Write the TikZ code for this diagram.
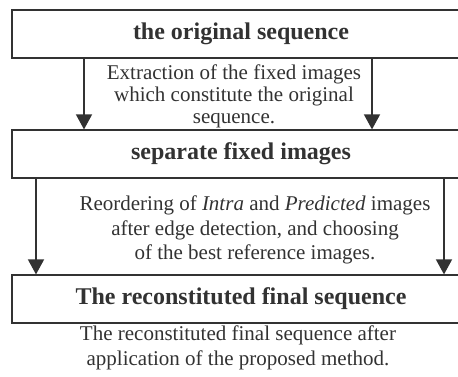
\documentclass[tikz,border=0pt]{standalone}
\usepackage{fontspec}
\setmainfont{Liberation Serif}
\usetikzlibrary{arrows.meta, positioning, calc}
\definecolor{ink}{RGB}{50,50,50}

\begin{document}
\begin{tikzpicture}[x=1pt,y=-1pt,>={Triangle[width=16pt,length=15pt]},
        color=ink, line width=1.2pt,
        stage/.style={draw, minimum width=458pt, minimum height=48pt, inner sep=0pt,
            font=\fontsize{24}{28}\selectfont\bfseries},
        note/.style={align=center, inner sep=0pt, font=\fontsize{21}{24.5}\selectfont}]
        \useasboundingbox (0,0) rectangle (458,376);
        % the three stages
        \node[stage] (orig) at (241,34) {the original sequence};
        \node[stage] (sep) at (241,154) {separate fixed images};
        \node[stage] (final) at (241,299) {The reconstituted final sequence};
        % arrow columns
        \coordinate (a1) at (84,0);
        \coordinate (a2) at (372,0);
        \coordinate (b1) at (36,0);
        \coordinate (b2) at (444,0);
        \draw [->, line width=1.5pt] (orig.south -| a1) -- (sep.north -| a1);
        \draw [->, line width=1.5pt] (orig.south -| a2) -- (sep.north -| a2);
        \draw [->, line width=1.5pt] (sep.south -| b1) -- (final.north -| b1);
        \draw [->, line width=1.5pt] (sep.south -| b2) -- (final.north -| b2);
        % descriptions
        \node[note, font=\fontsize{21}{22}\selectfont] (extract) at (234,96)
            {Extraction of the fixed images\\ which constitute the original\\ sequence.};
        \node[note] (reorder) at (255,230)
            {Reordering of \textit{Intra} and \textit{Predicted} images\\ after edge detection, and choosing\\ of the best reference images.};
        \node[note] (result) at (238,348)
            {The reconstituted final sequence after\\ application of the proposed method.};
    \end{tikzpicture}
\end{document}
